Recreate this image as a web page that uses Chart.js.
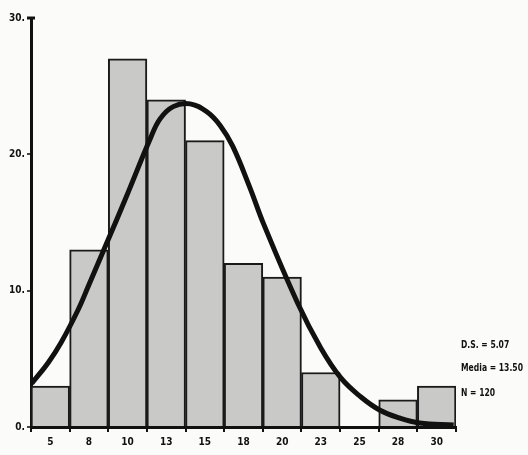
<!DOCTYPE html>
<html>
<head>
<meta charset="utf-8">
<script src="https://cdn.jsdelivr.net/npm/chart.js@4/dist/chart.umd.min.js"></script>
<style>
  html, body { margin: 0; padding: 0; background: #fbfbfa; }
  #wrap { width: 528px; height: 455px; position: relative; }
</style>
</head>
<body>
<div id="wrap"><canvas id="histChart"></canvas></div>
<script>
// ===== Data =====
const binCenters = [5, 7.5, 10, 12.5, 15, 17.5, 20, 22.5, 25, 27.5, 30];
const counts = [3, 13, 27, 24, 21, 12, 11, 4, 0, 2, 3];
const tickLabels = ['5', '8', '10', '13', '15', '18', '20', '23', '25', '28', '30'];

// normal curve
const curveX = [3.8, 4.85, 5.7, 6.8, 7.45, 8.65, 9.85, 11.45, 12.1, 12.95, 14.05, 15.15, 16.0, 16.8, 17.9, 18.8, 21.0, 22.5, 23.8, 25.1, 26.3, 27.6, 28.9, 31.1];
const curveY = [3.2, 4.7, 6.2, 8.6, 10.3, 13.5, 16.7, 21.1, 22.6, 23.5, 23.7, 23.1, 22.1, 20.6, 17.6, 14.9, 9.1, 5.8, 3.6, 2.2, 1.25, 0.66, 0.3, 0.15];

const yTicks = [0, 10, 20, 30];
const statsText = ['D.S. = 5.07', 'Media = 13.50', 'N = 120'];

const fontFamily = '"DejaVu Sans Condensed", "Liberation Sans Narrow", "DejaVu Sans", sans-serif';

// ===== Plugins =====
const paperPlugin = {
  id: 'paper',
  beforeDraw(chart) {
    const ctx = chart.ctx;
    ctx.save();
    ctx.fillStyle = '#fbfbfa';
    ctx.fillRect(0, 0, chart.width, chart.height);
    ctx.restore();
  }
};

const statsPlugin = {
  id: 'stats',
  afterDraw(chart) {
    const ctx = chart.ctx;
    const area = chart.chartArea;
    ctx.save();
    ctx.font = 'bold 10px ' + fontFamily;
    ctx.fillStyle = '#111';
    ctx.textBaseline = 'middle';
    const ys = [chart.scales.y.getPixelForValue(6), chart.scales.y.getPixelForValue(4.3), chart.scales.y.getPixelForValue(2.5)];
    statsText.forEach((t, i) => {
      ctx.save();
      ctx.translate(area.right + 5, ys[i]);
      ctx.scale(0.85, 1);
      ctx.fillText(t, 0, 0);
      ctx.restore();
    });
    // cap on top of y axis
    ctx.strokeStyle = '#111';
    ctx.lineWidth = 3;
    ctx.beginPath();
    ctx.moveTo(area.left - 4, area.top);
    ctx.lineTo(area.left + 4, area.top);
    ctx.stroke();
    ctx.restore();
  }
};

// ===== Chart =====
const ctx = document.getElementById('histChart');

const data = {
  datasets: [
    {
      type: 'line',
      data: curveX.map((x, i) => ({ x: x, y: curveY[i] })),
      borderColor: '#111',
      borderWidth: 5,
      pointRadius: 0,
      fill: false,
      tension: 0.4,
      order: 0
    },
    {
      type: 'bar',
      data: binCenters.map((x, i) => ({ x: x, y: counts[i] })),
      backgroundColor: '#c9c9c7',
      borderColor: '#1a1a1a',
      borderWidth: { top: 2, left: 2, right: 2, bottom: 0 },
      borderSkipped: false,
      barPercentage: 1,
      categoryPercentage: 1,
      order: 1
    }
  ]
};

const config = {
  data: data,
  options: {
    responsive: true,
    maintainAspectRatio: false,
    animation: false,
    layout: { padding: { top: 18, right: 72, bottom: 0, left: 0 } },
    plugins: {
      legend: { display: false },
      tooltip: { enabled: false }
    },
    scales: {
      x: {
        type: 'linear',
        min: 3.75,
        max: 31.25,
        offset: false,
        afterBuildTicks: function(scale) {
          scale.ticks = binCenters.map(v => ({ value: v }));
        },
        afterFit: function(scale) { scale.height = 28; },
        ticks: {
          color: '#111',
          autoSkip: false,
          maxRotation: 0,
          padding: 4,
          font: { family: fontFamily, size: 10, weight: 'bold' },
          callback: function(value) {
            const i = binCenters.indexOf(value);
            return i >= 0 ? tickLabels[i] : '';
          }
        },
        grid: { drawOnChartArea: false, drawTicks: true, tickLength: 5, color: '#111', lineWidth: 2 },
        border: { color: '#111', width: 3 }
      },
      y: {
        min: 0,
        max: 30,
        afterBuildTicks: function(scale) {
          scale.ticks = yTicks.map(v => ({ value: v }));
        },
        afterFit: function(scale) { scale.width = 31; },
        ticks: {
          color: '#111',
          padding: 2,
          font: { family: fontFamily, size: 10, weight: 'bold' },
          callback: function(value) { return value + '.'; }
        },
        grid: { drawOnChartArea: false, drawTicks: true, tickLength: 4, color: '#444', lineWidth: 2 },
        border: { color: '#111', width: 3 }
      }
    }
  },
  plugins: [paperPlugin, statsPlugin]
};

const histChart = new Chart(ctx, config);
</script>
</body>
</html>
